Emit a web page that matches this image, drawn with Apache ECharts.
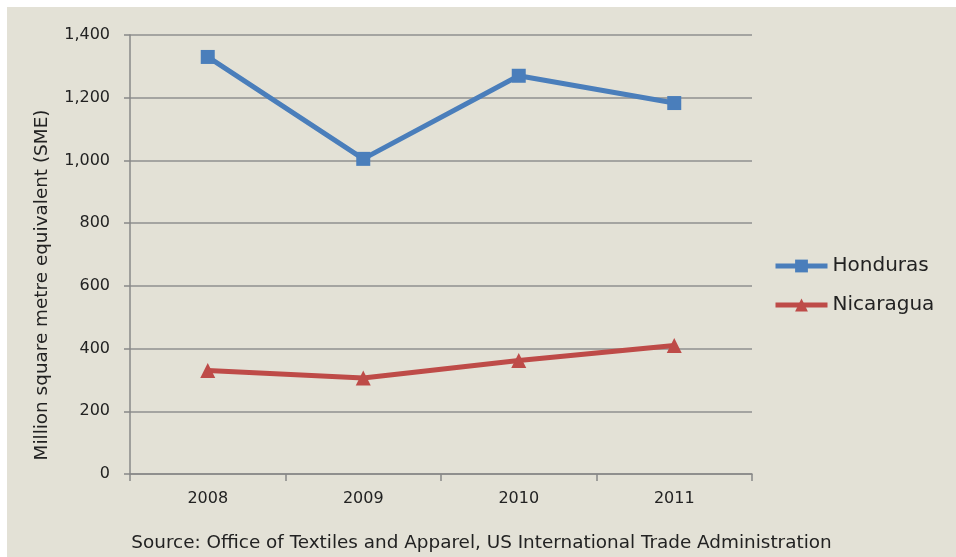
<!DOCTYPE html>
<html><head><meta charset="utf-8">
<script src="https://cdn.jsdelivr.net/npm/echarts@6/dist/echarts.min.js"></script>
<style>
html,body{margin:0;padding:0;background:#ffffff;width:956px;height:557px;overflow:hidden;}
#c{position:absolute;left:7px;top:7px;width:949px;height:550px;}
</style></head>
<body><div id="c"></div>
<script>
const categories = ['2008','2009','2010','2011'];
const honduras = [1330, 1005, 1270, 1183];
const nicaragua = [330, 306, 362, 410];
const yTicks = {min:0, max:1400, interval:200};
const yName = 'Million square metre equivalent (SME)';
const source = 'Source: Office of Textiles and Apparel, US International Trade Administration';

const chart = echarts.init(document.getElementById('c'));
const font = 'DejaVu Sans';
chart.setOption({
  backgroundColor:'#e3e1d6',
  animation:false,
  textStyle:{fontFamily:font},
  grid:{left:123,top:28,right:204,bottom:83,containLabel:false},
  title:{text:source,left:'center',top:527,padding:0,textStyle:{fontFamily:font,fontSize:18.4,fontWeight:'normal',color:'#222'}},
  graphic:[{type:'text',x:35,y:278,rotation:Math.PI/2,
    style:{text:yName,align:'center',verticalAlign:'middle',fontFamily:font,fontSize:18.4,fill:'#222'}}],
  legend:{orient:'vertical',left:766,top:249,padding:0,itemWidth:52,itemHeight:16,itemGap:19,
    lineStyle:{width:5},
    textStyle:{fontFamily:font,fontSize:20,color:'#222'},
    data:['Honduras','Nicaragua']},
  xAxis:{type:'category',data:categories,boundaryGap:true,
    axisLine:{lineStyle:{color:'#888',width:1.5}},
    axisTick:{show:true,length:7,lineStyle:{color:'#888',width:1.5}},
    axisLabel:{fontSize:16,color:'#222',margin:17,fontFamily:font}},
  yAxis:{type:'value',min:yTicks.min,max:yTicks.max,interval:yTicks.interval,
    axisLine:{show:true,lineStyle:{color:'#888',width:1.5}},
    axisTick:{show:true,length:6,lineStyle:{color:'#888',width:1.5}},
    splitLine:{lineStyle:{color:'#8f8f8f',width:1.5}},
    axisLabel:{fontSize:16,color:'#222',margin:20,fontFamily:font,
      formatter:v=>v.toLocaleString('en-US')}},
  series:[
    {name:'Honduras',type:'line',data:honduras,symbol:'rect',symbolSize:14,
      lineStyle:{color:'#4a7ebb',width:5},itemStyle:{color:'#4a7ebb'}},
    {name:'Nicaragua',type:'line',data:nicaragua,symbol:'triangle',symbolSize:15,
      lineStyle:{color:'#be4b48',width:5},itemStyle:{color:'#be4b48'}}
  ]
});
</script></body></html>
